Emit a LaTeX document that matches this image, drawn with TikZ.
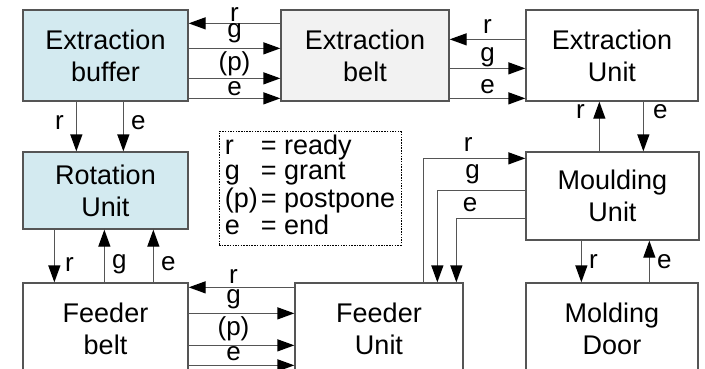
\documentclass[tikz,border=0pt]{standalone}
\usepackage{fontspec}
\setmainfont{Liberation Sans}
\usetikzlibrary{arrows.meta,calc}
\definecolor{ashgray}{HTML}{555555}
\definecolor{paleblue}{HTML}{D3EAF0}
\definecolor{palegray}{HTML}{F2F2F2}

\begin{document}
\begin{tikzpicture}[x=1pt,y=-1pt,
  unit/.style={draw=ashgray,line width=1.3pt,align=center,inner sep=0pt,font=\fontsize{27}{32}\selectfont},
  sig/.style={draw=ashgray,line width=1.3pt,-{Triangle[length=17pt,width=12pt,black]}},
  lbl/.style={inner sep=0pt,font=\fontsize{26}{26}\selectfont},
  legend/.style={draw=black,line width=0.9pt,dash pattern=on 1.5pt off 1.2pt,minimum width=182pt,minimum height=111pt,inner sep=3pt,font=\fontsize{27}{25.5}\selectfont}]
\useasboundingbox (0,0) rectangle (705,368);
\clip (0,0) rectangle (705,368);
% units
\node[unit,fill=paleblue,minimum width=165pt,minimum height=91pt] (buf) at (105.5,55.5) {Extraction\\buffer};
\node[unit,fill=palegray,minimum width=168pt,minimum height=91pt] (belt) at (365,55.5) {Extraction\\belt};
\node[unit,minimum width=172pt,minimum height=91pt] (exu) at (612,55.5) {Extraction\\Unit};
\node[unit,fill=paleblue,minimum width=165pt,minimum height=77pt] (rot) at (105.5,190.5) {Rotation\\Unit};
\node[unit,minimum width=173pt,minimum height=88pt] (mou) at (612.5,196) {Moulding\\Unit};
\node[unit,minimum width=165pt,minimum height=91pt] (fbelt) at (105.5,328.5) {Feeder\\belt};
\node[unit,minimum width=168pt,minimum height=91pt] (fu) at (379,328.5) {Feeder\\Unit};
\node[unit,minimum width=172pt,minimum height=91pt] (door) at (612,328.5) {Molding\\Door};
\node[legend] (key) at (310,188.5) {\begin{tabular}{@{}l@{\hspace{3pt}}l@{}}r&= ready\\ g&= grant\\ (p)&= postpone\\ e&= end\end{tabular}};
% extraction buffer <-> extraction belt
\draw[sig] ($(belt.north west)+(0,14)$) -- node[lbl,above=1pt]{r} ($(buf.north east)+(0,14)$);
\draw[sig] ($(buf.north east)+(0,39)$) -- node[lbl,above=5pt]{g} ($(belt.north west)+(0,39)$);
\draw[sig] ($(buf.north east)+(0,69)$) -- node[lbl,above=2pt]{(p)} ($(belt.north west)+(0,69)$);
\draw[sig] ($(buf.north east)+(0,89)$) -- node[lbl,above=2pt]{e} ($(belt.north west)+(0,89)$);
% extraction belt <-> extraction unit
\draw[sig] ($(exu.north west)+(0,30)$) -- node[lbl,above=5pt]{r} ($(belt.north east)+(0,30)$);
\draw[sig] ($(belt.north east)+(0,59)$) -- node[lbl,above=1pt]{g} ($(exu.north west)+(0,59)$);
\draw[sig] ($(belt.north east)+(0,89)$) -- node[lbl,above=4pt]{e} ($(exu.north west)+(0,89)$);
% extraction buffer -> rotation unit
\draw[sig] ($(buf.south west)+(54,0)$) -- node[lbl,left=12pt,pos=.42]{r} ($(rot.north west)+(54,0)$);
\draw[sig] ($(buf.south west)+(101,0)$) -- node[lbl,right=7pt,pos=.42]{e} ($(rot.north west)+(101,0)$);
% rotation unit <-> feeder belt
\draw[sig] ($(rot.south west)+(32,0)$) -- node[lbl,right=10pt,pos=.67]{r} ($(fbelt.north west)+(32,0)$);
\draw[sig] ($(fbelt.north west)+(82,0)$) -- node[lbl,right=7pt,pos=.35]{g} ($(rot.south west)+(82,0)$);
\draw[sig] ($(fbelt.north west)+(131,0)$) -- node[lbl,right=7pt,pos=.35]{e} ($(rot.south west)+(131,0)$);
% feeder belt <-> feeder unit
\draw[sig] ($(fu.north west)+(0,5)$) -- node[lbl,above=3pt,xshift=-8pt]{r} ($(fbelt.north east)+(0,5)$);
\draw[sig] ($(fbelt.north east)+(0,31)$) -- node[lbl,above=4pt,xshift=-8pt]{g} ($(fu.north west)+(0,31)$);
\draw[sig] ($(fbelt.north east)+(0,63)$) -- node[lbl,above=4pt,xshift=-8pt]{(p)} ($(fu.north west)+(0,63)$);
\draw[sig] ($(fbelt.north east)+(0,83)$) -- node[lbl,above=4pt,xshift=-8pt]{e} ($(fu.north west)+(0,83)$);
% extraction unit <-> moulding unit
\draw[sig] ($(mou.north west)+(74,0)$) -- node[lbl,left=14pt,pos=.8]{r} ($(exu.south west)+(74,0)$);
\draw[sig] ($(exu.south west)+(118,0)$) -- node[lbl,right=9pt,pos=.2]{e} ($(mou.north west)+(118,0)$);
% moulding unit <-> molding door
\draw[sig] ($(mou.south west)+(56,0)$) -- node[lbl,right=7pt]{r} ($(door.north west)+(56,0)$);
\draw[sig] ($(door.north west)+(124,0)$) -- node[lbl,right=7pt]{e} ($(mou.south west)+(124,0)$);
% moulding unit <-> feeder unit
\draw[sig] ($(fu.north west)+(129,0)$) |- node[lbl,above=6pt,pos=.72]{r} ($(mou.north west)+(0,7)$);
\draw[sig] ($(mou.north west)+(0,39)$) -| node[lbl,above=6pt,pos=.3]{g} ($(fu.north west)+(143,0)$);
\draw[sig] ($(mou.north west)+(0,67)$) -| node[lbl,above=6pt,pos=.4]{e} ($(fu.north west)+(162,0)$);
\end{tikzpicture}
\end{document}
